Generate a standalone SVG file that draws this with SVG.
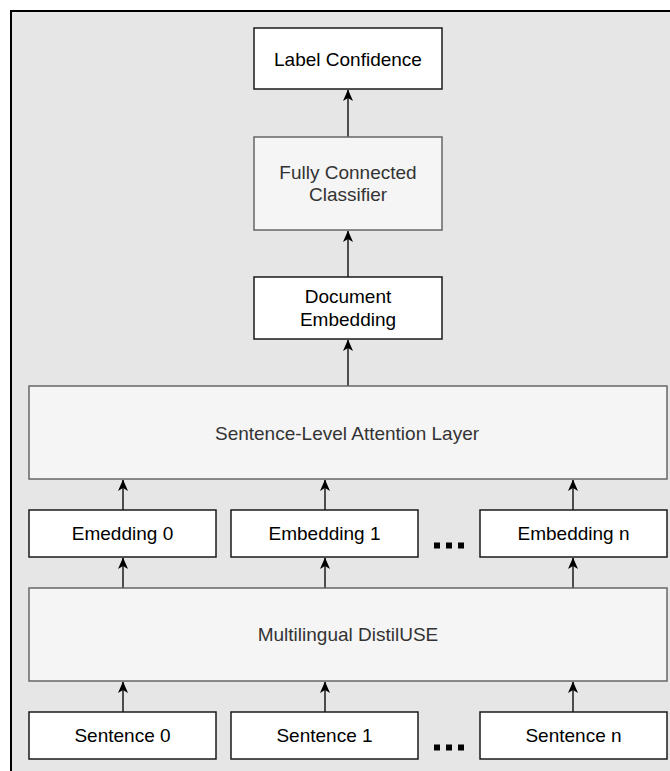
<svg xmlns="http://www.w3.org/2000/svg" width="670" height="771" viewBox="0 0 670 771">
<defs>
<marker id="arr" markerUnits="userSpaceOnUse" markerWidth="14" markerHeight="14" viewBox="0 0 14 14" refX="12" refY="7" orient="auto">
<path d="M1,2 L12.5,7 L1,12 L4,7 Z" fill="#000"/>
</marker>
<style>
.w{fill:#fff;stroke:#1a1a1a;stroke-width:1.5}
.g{fill:#f5f5f5;stroke:#666;stroke-width:1.5}
.t{font-family:"Liberation Sans",Arial,sans-serif;font-size:19px;text-anchor:middle;fill:#000}
.tg{font-family:"Liberation Sans",Arial,sans-serif;font-size:19px;text-anchor:middle;fill:#333}
.c{stroke:#1a1a1a;stroke-width:1.5;fill:none;marker-end:url(#arr)}
.dot{fill:#000}
</style>
</defs>
<rect x="0" y="0" width="670" height="771" fill="#fff"/>
<rect id="frame" x="11" y="11" width="680" height="780" fill="#e6e6e6" stroke="#000" stroke-width="2"/>

<g id="connectors">
<line class="c" x1="348" y1="137" x2="348" y2="90"/>
<line class="c" x1="348" y1="277" x2="348" y2="231"/>
<line class="c" x1="348" y1="386" x2="348" y2="340"/>
<line class="c" x1="123" y1="510" x2="123" y2="480"/>
<line class="c" x1="325" y1="510" x2="325" y2="480"/>
<line class="c" x1="573" y1="510" x2="573" y2="480"/>
<line class="c" x1="123" y1="588" x2="123" y2="558"/>
<line class="c" x1="325" y1="588" x2="325" y2="558"/>
<line class="c" x1="573" y1="588" x2="573" y2="558"/>
<line class="c" x1="123" y1="712" x2="123" y2="682"/>
<line class="c" x1="325" y1="712" x2="325" y2="682"/>
<line class="c" x1="573" y1="712" x2="573" y2="682"/>
</g>

<g id="label-confidence">
<rect class="w" x="254" y="28" width="188" height="61"/>
<text class="t" x="348" y="65.5">Label Confidence</text>
</g>
<g id="fc-classifier">
<rect class="g" x="254" y="137" width="188" height="93"/>
<text class="tg" x="348" y="179">Fully Connected</text>
<text class="tg" x="348" y="201">Classifier</text>
</g>
<g id="doc-embedding">
<rect class="w" x="254" y="277" width="188" height="62"/>
<text class="t" x="348" y="303">Document</text>
<text class="t" x="348" y="326">Embedding</text>
</g>
<g id="attention">
<rect class="g" x="29" y="386" width="638" height="93"/>
<text class="tg" x="347" y="439.5">Sentence-Level Attention Layer</text>
</g>
<g id="emb0">
<rect class="w" x="29" y="510" width="187" height="47"/>
<text class="t" x="122.5" y="540">Emedding 0</text>
</g>
<g id="emb1">
<rect class="w" x="231" y="510" width="187" height="47"/>
<text class="t" x="324.5" y="540">Embedding 1</text>
</g>
<g id="embn">
<rect class="w" x="480" y="510" width="187" height="47"/>
<text class="t" x="573.5" y="540">Embedding n</text>
</g>
<g id="emb-dots">
<rect class="dot" x="434" y="542.5" width="6" height="6"/>
<rect class="dot" x="446" y="542.5" width="6" height="6"/>
<rect class="dot" x="458" y="542.5" width="6" height="6"/>
</g>
<g id="distiluse">
<rect class="g" x="29" y="588" width="638" height="93"/>
<text class="tg" x="348" y="641">Multilingual DistilUSE</text>
</g>
<g id="sent0">
<rect class="w" x="29" y="712" width="187" height="47"/>
<text class="t" x="122.5" y="742">Sentence 0</text>
</g>
<g id="sent1">
<rect class="w" x="231" y="712" width="187" height="47"/>
<text class="t" x="324.5" y="742">Sentence 1</text>
</g>
<g id="sentn">
<rect class="w" x="480" y="712" width="187" height="47"/>
<text class="t" x="573.5" y="742">Sentence n</text>
</g>
<g id="sent-dots">
<rect class="dot" x="434" y="744.5" width="6" height="6"/>
<rect class="dot" x="446" y="744.5" width="6" height="6"/>
<rect class="dot" x="458" y="744.5" width="6" height="6"/>
</g>
</svg>
